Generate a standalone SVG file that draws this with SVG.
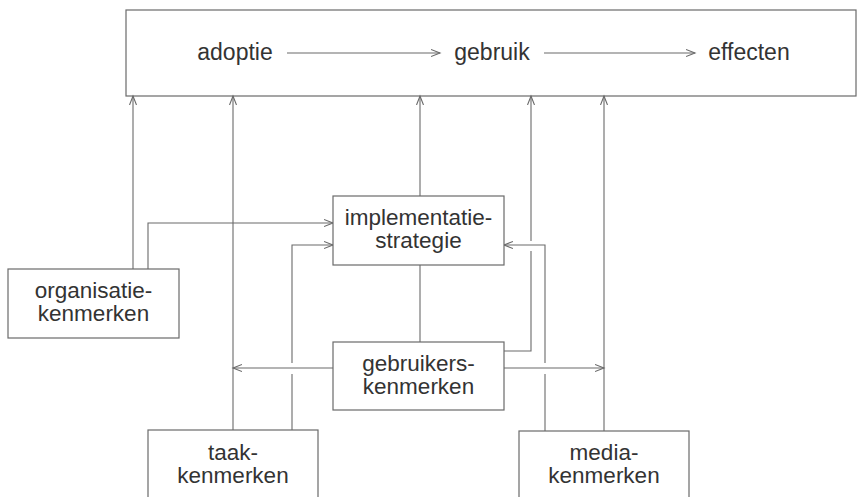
<svg xmlns="http://www.w3.org/2000/svg" width="858" height="497" viewBox="0 0 858 497">
<defs>
<style>
.box{fill:#fff;stroke:#6a6a6a;stroke-width:1.2}
.ln{fill:none;stroke:#6a6a6a;stroke-width:1.1}
.t{font-family:"Liberation Sans",Arial,sans-serif;fill:#333;text-anchor:middle}
.tb{font-size:22.5px}
.tt{font-size:23px}
</style>
<marker id="ah" markerUnits="userSpaceOnUse" markerWidth="12" markerHeight="10" refX="9" refY="4" orient="auto">
<path d="M0,0.5 L9,4 L0,7.5" fill="none" stroke="#6a6a6a" stroke-width="1.1"/>
</marker>
</defs>
<rect width="858" height="497" fill="#fff"/>

<g id="top">
<rect class="box" x="126" y="10" width="730" height="86"/>
</g>
<g id="adoptie"><text class="t tt" x="235" y="60">adoptie</text></g>
<g id="gebruik"><text class="t tt" x="492" y="60">gebruik</text></g>
<g id="effecten"><text class="t tt" x="749" y="60">effecten</text></g>

<g id="connectors">
<path class="ln" d="M287,53 H440" marker-end="url(#ah)"/>
<path class="ln" d="M544,53 H695" marker-end="url(#ah)"/>
<path class="ln" d="M133,269 V96" marker-end="url(#ah)"/>
<path class="ln" d="M148,269 V223 H333" marker-end="url(#ah)"/>
<path class="ln" d="M233,430 V96" marker-end="url(#ah)"/>
<path class="ln" d="M292,430 V374"/>
<path class="ln" d="M292,363 V245 H333" marker-end="url(#ah)"/>
<path class="ln" d="M420,196 V96" marker-end="url(#ah)"/>
<path class="ln" d="M420,265 V342"/>
<path class="ln" d="M504,351 H531 V251"/>
<path class="ln" d="M531,241 V96" marker-end="url(#ah)"/>
<path class="ln" d="M333,368 H233" marker-end="url(#ah)"/>
<path class="ln" d="M504,368 H604" marker-end="url(#ah)"/>
<path class="ln" d="M604,431 V96" marker-end="url(#ah)"/>
<path class="ln" d="M545,431 V374"/>
<path class="ln" d="M545,363 V245 H504" marker-end="url(#ah)"/>
</g>

<g id="organisatie">
<rect class="box" x="8" y="269" width="171" height="69"/>
<text class="t tb" x="93.5" y="298">organisatie-</text>
<text class="t tb" x="93.5" y="321">kenmerken</text>
</g>
<g id="implementatie">
<rect class="box" x="333" y="196" width="171" height="69"/>
<text class="t tb" x="418.5" y="225">implementatie-</text>
<text class="t tb" x="418.5" y="248">strategie</text>
</g>
<g id="gebruikers">
<rect class="box" x="333" y="342" width="171" height="68"/>
<text class="t tb" x="418.5" y="371">gebruikers-</text>
<text class="t tb" x="418.5" y="394">kenmerken</text>
</g>
<g id="taak">
<rect class="box" x="148" y="430" width="170" height="80"/>
<text class="t tb" x="233" y="460">taak-</text>
<text class="t tb" x="233" y="483">kenmerken</text>
</g>
<g id="media">
<rect class="box" x="519" y="431" width="170" height="80"/>
<text class="t tb" x="604" y="460">media-</text>
<text class="t tb" x="604" y="483">kenmerken</text>
</g>
</svg>
